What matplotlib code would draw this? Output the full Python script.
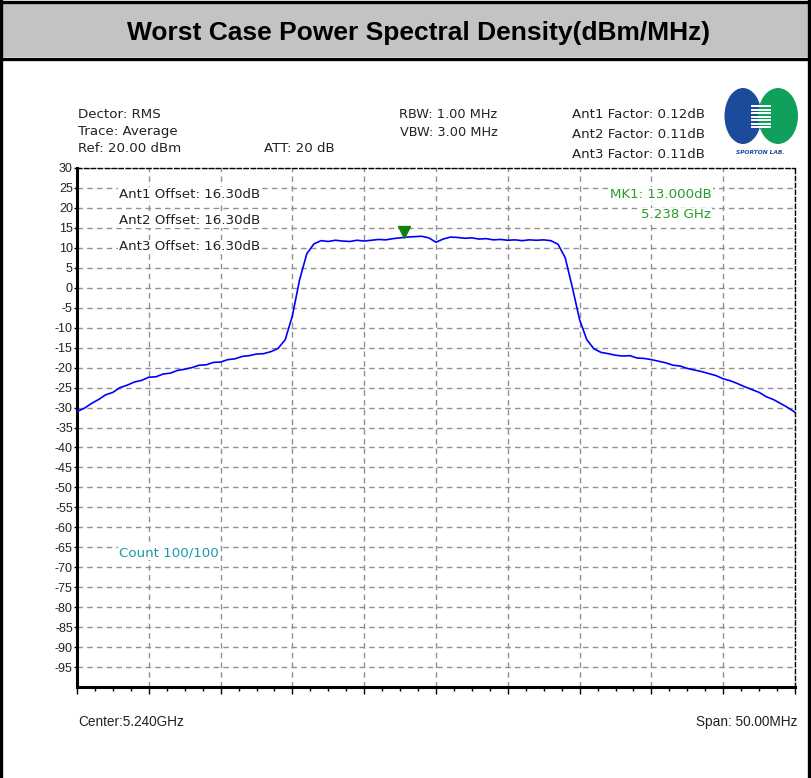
import numpy as np
import matplotlib
matplotlib.use("Agg")
import matplotlib.pyplot as plt
from matplotlib.patches import Ellipse, Rectangle
from matplotlib.lines import Line2D

W, H = 812, 778

# trace, frequency in MHz, level in dBm
freq_mhz = [5215.0 + 0.5 * i for i in range(101)]
level_dbm = [
    -31.0, -30.2, -29.0, -28.0, -26.8, -26.2, -25.0, -24.4, -23.6, -23.2,
    -22.4, -22.3, -21.6, -21.4, -20.7, -20.4, -20.0, -19.4, -19.3, -18.7,
    -18.6, -18.0, -17.8, -17.2, -17.0, -16.6, -16.5, -16.0, -15.2, -13.0,
    -7.0, 2.0, 8.5, 11.0, 11.8, 11.6, 11.9, 11.7, 11.6, 11.9,
    11.7, 11.9, 12.1, 12.0, 12.3, 12.5, 12.7, 12.8, 12.9, 12.5,
    11.4, 12.2, 12.7, 12.6, 12.4, 12.5, 12.2, 12.3, 12.0, 12.1,
    11.9, 12.0, 11.8, 12.0, 11.9, 12.0, 11.8, 10.9, 7.5, 0.0,
    -8.0, -13.0, -15.3, -16.2, -16.5, -16.9, -17.1, -17.0, -17.6, -17.7,
    -18.0, -18.4, -18.8, -19.4, -19.6, -20.2, -20.6, -21.0, -21.5, -22.0,
    -22.8, -23.3, -24.0, -24.8, -25.5, -26.2, -27.3, -28.0, -29.0, -30.0,
    -31.2,
]
marker_freq = 5237.8
marker_level = 13.0
ytick_vals = list(range(30, -100, -5))

header_left = ["Dector: RMS", "Trace: Average", "Ref: 20.00 dBm"]
header_mid = ["RBW: 1.00 MHz", "VBW: 3.00 MHz"]
ant_factor = ["Ant1 Factor: 0.12dB", "Ant2 Factor: 0.11dB", "Ant3 Factor: 0.11dB"]
ant_offset = ["Ant1 Offset: 16.30dB", "Ant2 Offset: 16.30dB", "Ant3 Offset: 16.30dB"]

FS = 9.6  # size of the screen text


def px(x, y):
    return x / W, 1 - y / H


fig = plt.figure(figsize=(W / 100, H / 100), dpi=100)
fig.patch.set_facecolor("white")

# title band and frame
x0, y0 = px(2, 57)
fig.patches.append(Rectangle((x0, y0), px(808, 0)[0] - x0, px(0, 3)[1] - y0,
                             transform=fig.transFigure, facecolor="#c3c3c3",
                             edgecolor="none", zorder=0))
for xs, ys in [((1.5, 1.5), (0, 778)), ((809.5, 809.5), (0, 778)),
               ((0, 811), (1.5, 1.5)), ((0, 811), (58.5, 58.5))]:
    a, b = px(xs[0], ys[0]), px(xs[1], ys[1])
    fig.lines.append(Line2D([a[0], b[0]], [a[1], b[1]], transform=fig.transFigure,
                            color="black", lw=2.4))
fig.text(*px(419, 33), "Worst Case Power Spectral Density(dBm/MHz)",
         ha="center", va="center", fontsize=19, fontweight="bold",
         family="Liberation Sans")

l, b = px(77, 687)
r, t = px(795, 168)
ax = fig.add_axes([l, b, r - l, t - b])
ax.set_xlim(5215, 5265)
ax.set_ylim(-100, 30)

ax.plot(freq_mhz, level_dbm, color="#0000ff", lw=1.2, zorder=3)
ax.plot([marker_freq], [marker_level + 1.0], marker="v", color="#108010",
        markersize=8, zorder=4)

ax.set_xticks(np.arange(5215, 5265.1, 5))
ax.set_xticks(np.arange(5215, 5265.1, 1.25), minor=True)
ax.set_xticklabels([])
ax.set_yticks(ytick_vals)
ax.set_yticklabels([str(v) for v in ytick_vals], family="Liberation Sans",
                   fontsize=9, color="#222222")
ax.tick_params(axis="y", length=2, pad=1, width=1)
ax.tick_params(axis="x", which="major", length=5, width=1, direction="out")
ax.tick_params(axis="x", which="minor", length=3, width=1, direction="out")
ax.grid(True, which="major", color="#909090", ls=(0, (4, 3)), lw=1)

for s in ["left", "bottom"]:
    ax.spines[s].set_linewidth(2.2)
for s in ["top", "right"]:
    ax.spines[s].set_linestyle((0, (3, 2)))
    ax.spines[s].set_linewidth(1.0)

# header text above the plot
for i, s in enumerate(header_left):
    fig.text(*px(78, 115 + 17 * i), s, va="center", fontsize=FS,
             family="DejaVu Sans", color="#222222")
fig.text(*px(264, 149), "ATT: 20 dB", va="center", fontsize=FS,
         family="DejaVu Sans", color="#222222")
for i, s in enumerate(header_mid):
    fig.text(*px(399 + i, 115 + 17 * i), s, va="center", fontsize=9.3,
             family="DejaVu Sans", color="#222222")
for i, s in enumerate(ant_factor):
    fig.text(*px(572, 114 + 20 * i), s, va="center", fontsize=FS,
             family="DejaVu Sans", color="#222222")

# logo
lx, ly = px(743, 116)
gx, gy = px(778, 116)
fig.patches.append(Ellipse((lx, ly), 37 / W, 56 / H, transform=fig.transFigure,
                           facecolor="#1c4b9c", edgecolor="none"))
fig.patches.append(Ellipse((gx, gy), 40 / W, 56 / H, transform=fig.transFigure,
                           facecolor="#11a05c", edgecolor="none"))
for k in range(7):
    yy = 106 + 3.5 * k
    a, c = px(752, yy), px(770, yy)
    fig.lines.append(Line2D([a[0], c[0]], [a[1], a[1]], transform=fig.transFigure,
                            color="white", lw=1.4))
fig.text(*px(760, 152), "SPORTON LAB.", ha="center", va="center", fontsize=4.2,
         fontweight="bold", style="italic", color="#1c4b9c", family="DejaVu Sans")

# annotations inside the plot
for i, s in enumerate(ant_offset):
    fig.text(*px(119, 194 + 26.5 * i), s, va="center", fontsize=FS,
             family="DejaVu Sans", color="#222222",
             bbox=dict(facecolor="white", edgecolor="none", pad=0.5))
fig.text(*px(712, 194), "MK1: 13.000dB", ha="right", va="center", fontsize=FS,
         family="DejaVu Sans", color="#2a9a2a",
         bbox=dict(facecolor="white", edgecolor="none", pad=0.5))
fig.text(*px(711, 215), "5.238 GHz", ha="right", va="center", fontsize=FS,
         family="DejaVu Sans", color="#2a9a2a",
         bbox=dict(facecolor="white", edgecolor="none", pad=0.5))
fig.text(*px(119, 553), "Count 100/100", va="center", fontsize=FS,
         family="DejaVu Sans", color="#1a9aaa",
         bbox=dict(facecolor="white", edgecolor="none", pad=0.5))

fig.text(*px(78, 722), "Center:5.240GHz", va="center", fontsize=9.8,
         family="Liberation Sans", color="#222222")
fig.text(*px(797, 722), "Span: 50.00MHz", ha="right", va="center", fontsize=9.8,
         family="Liberation Sans", color="#222222")

fig.savefig("out.png", dpi=100)
